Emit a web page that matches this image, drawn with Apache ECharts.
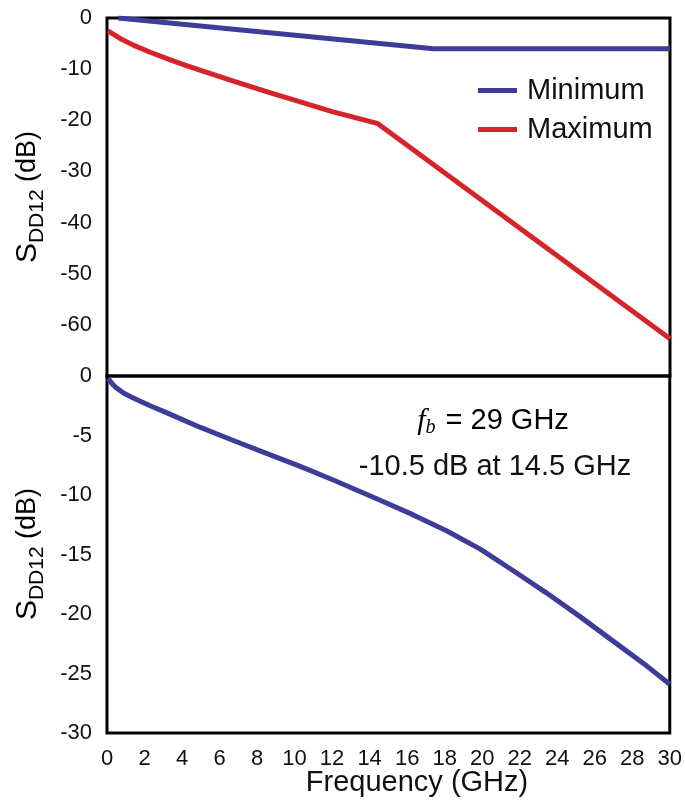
<!DOCTYPE html>
<html>
<head>
<meta charset="utf-8">
<script src="https://cdn.jsdelivr.net/npm/echarts@6/dist/echarts.min.js"></script>
<style>
  html, body { margin: 0; padding: 0; background: #fff; }
  #chart { width: 685px; height: 801px; }
</style>
</head>
<body>
<div id="chart"></div>
<script>
// top panel: minimum / maximum limit lines
var minLimit = [[0.6, 0], [17.4, -6], [30, -6]];
var maxLimit = [[0.05, -2.5], [0.7, -4.0], [1.4, -5.3], [2.3, -6.7], [3.2, -7.95], [4.0, -9.0], [4.95, -10.2],
                [6.7, -12.3], [8.5, -14.4], [10.3, -16.4], [12.0, -18.3], [14.4, -20.6], [30, -62.7]];
// bottom panel: measured channel
var channel = [[0.05, -0.2], [0.25, -0.6], [0.5, -1.0], [0.9, -1.45], [1.4, -1.85], [2.3, -2.5], [3.2, -3.1],
               [4.95, -4.3], [6.7, -5.4], [8.5, -6.5], [10.3, -7.6], [12.0, -8.7], [14.5, -10.4],
               [16.3, -11.65], [18.1, -13.0], [19.9, -14.55], [21.6, -16.3], [23.4, -18.2], [25.2, -20.2],
               [27.0, -22.3], [28.8, -24.4], [30, -25.9]];
var xTicks = { min: 0, max: 30, step: 2 };

var BLUE = '#3d3c98';
var RED = '#d7242a';
var FONT = 'Liberation Sans';

var chart = echarts.init(document.getElementById('chart'));

var yName = {
  s: { fontSize: 30, fontFamily: FONT, color: '#111' },
  sub: { fontSize: 21, fontFamily: FONT, color: '#111', padding: [18, 0, 0, 0] },
  u: { fontSize: 27, fontFamily: FONT, color: '#111' }
};

var option = {
  animation: false,
  grid: [
    { left: 107, top: 18, width: 563, height: 358, show: true, borderColor: '#000', borderWidth: 3 },
    { left: 107, top: 376, width: 563, height: 357, show: true, borderColor: '#000', borderWidth: 3 }
  ],
  legend: {
    data: ['Minimum', 'Maximum'],
    orient: 'vertical',
    left: 478,
    top: 76,
    padding: 0,
    itemWidth: 39,
    itemHeight: 5,
    itemGap: 10,
    icon: 'rect',
    textStyle: { fontSize: 29, fontFamily: FONT, color: '#111', padding: [0, 0, 0, 5] }
  },
  xAxis: [
    { gridIndex: 0, type: 'value', min: xTicks.min, max: xTicks.max, interval: xTicks.step,
      axisLine: { show: false }, axisTick: { show: false }, axisLabel: { show: false }, splitLine: { show: false } },
    { gridIndex: 1, type: 'value', min: xTicks.min, max: xTicks.max, interval: xTicks.step,
      axisLine: { show: false }, axisTick: { show: false }, splitLine: { show: false },
      axisLabel: { fontSize: 22, fontFamily: FONT, color: '#111', margin: 15 } }
  ],
  yAxis: [
    { gridIndex: 0, type: 'value', min: -70, max: 0, interval: 10,
      axisLine: { show: false }, axisTick: { show: false }, splitLine: { show: false },
      axisLabel: { fontSize: 22, fontFamily: FONT, color: '#111', margin: 15,
        formatter: function (v) { return v === -70 ? '' : v; } } },
    { gridIndex: 1, type: 'value', min: -30, max: 0, interval: 5,
      axisLine: { show: false }, axisTick: { show: false }, splitLine: { show: false },
      axisLabel: { fontSize: 22, fontFamily: FONT, color: '#111', margin: 15 } }
  ],
  series: [
    { name: 'Minimum', type: 'line', xAxisIndex: 0, yAxisIndex: 0, data: minLimit,
      symbol: 'none', color: BLUE, lineStyle: { width: 5, color: BLUE } },
    { name: 'Maximum', type: 'line', xAxisIndex: 0, yAxisIndex: 0, data: maxLimit,
      symbol: 'none', color: RED, lineStyle: { width: 5, color: RED, join: 'round' } },
    { name: 'Channel', type: 'line', xAxisIndex: 1, yAxisIndex: 1, data: channel,
      symbol: 'none', color: BLUE, lineStyle: { width: 5, color: BLUE, join: 'round' } }
  ],
  graphic: [
    { type: 'text', x: 28, y: 197, rotation: Math.PI / 2,
      style: { text: '{s|S}{sub|DD12}{u| (dB)}', rich: yName, align: 'center', verticalAlign: 'middle' } },
    { type: 'text', x: 28, y: 554, rotation: Math.PI / 2,
      style: { text: '{s|S}{sub|DD12}{u| (dB)}', rich: yName, align: 'center', verticalAlign: 'middle' } },
    { type: 'text', x: 417, y: 783,
      style: { text: 'Frequency (GHz)', fontSize: 29, fontFamily: FONT, fill: '#111',
        align: 'center', verticalAlign: 'middle' } },
    { type: 'text', x: 493, y: 421,
      style: { text: '{f|f}{b|b}{t| = 29 GHz}', align: 'center', verticalAlign: 'middle',
        rich: {
          f: { fontSize: 30, fontFamily: 'Liberation Serif', fontStyle: 'italic', color: '#111' },
          b: { fontSize: 20, fontFamily: 'Liberation Serif', fontStyle: 'italic', color: '#111', padding: [14, 2, 0, 0] },
          t: { fontSize: 29, fontFamily: FONT, color: '#111' }
        } } },
    { type: 'text', x: 495, y: 467,
      style: { text: '-10.5 dB at 14.5 GHz', fontSize: 29, fontFamily: FONT, fill: '#111',
        align: 'center', verticalAlign: 'middle' } }
  ]
};

chart.setOption(option);
</script>
</body>
</html>
